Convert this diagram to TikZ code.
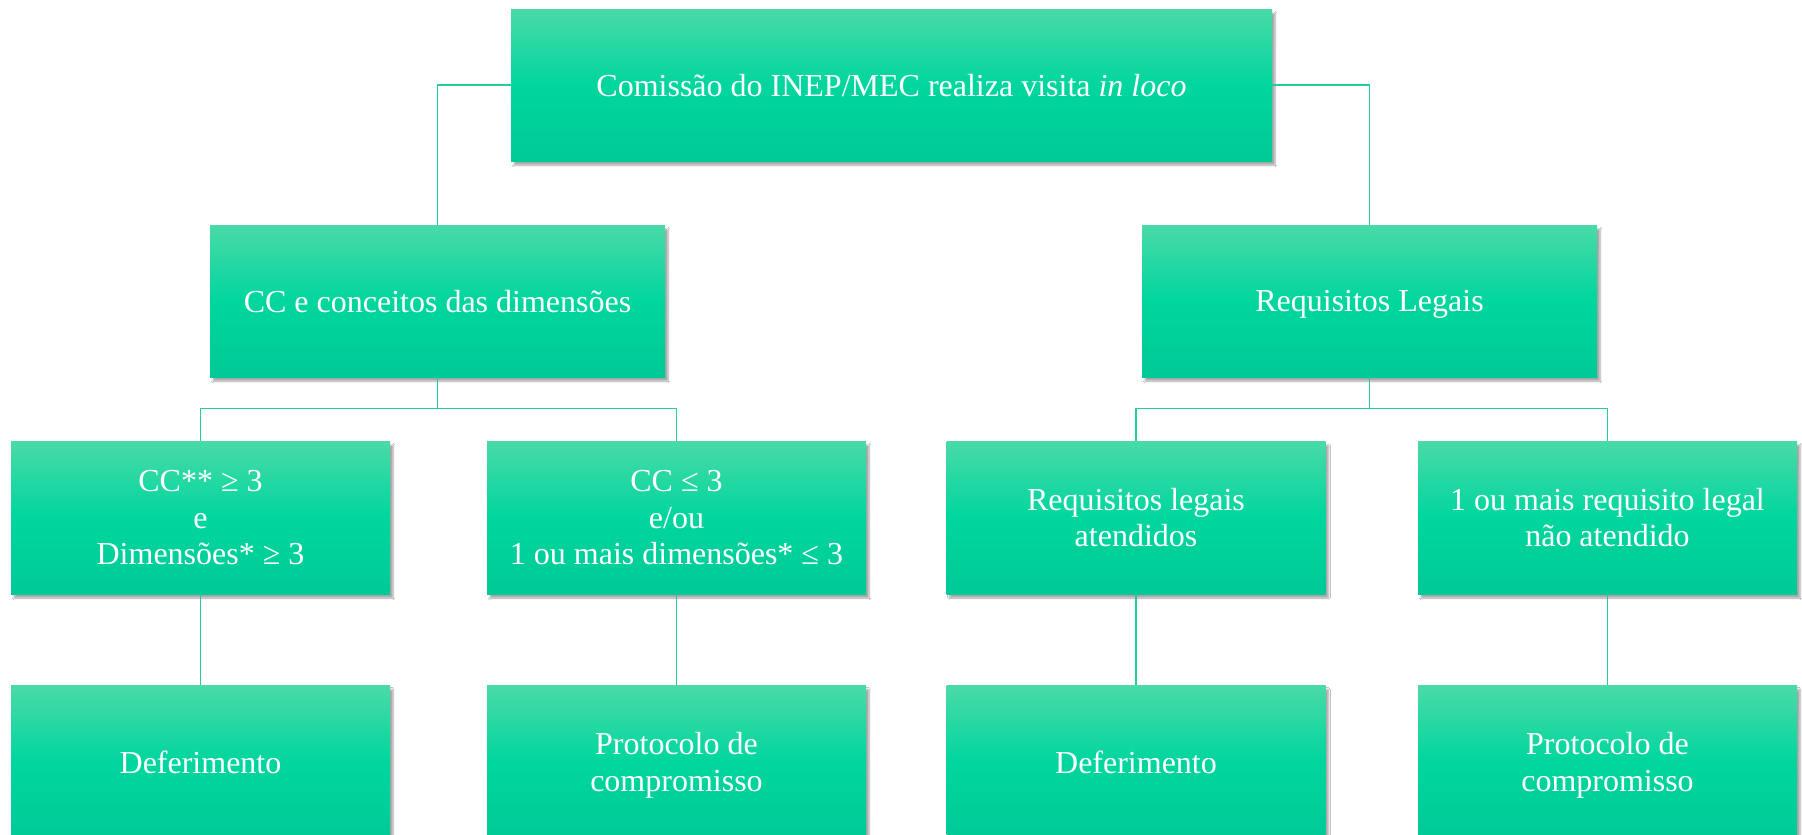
\documentclass[tikz,border=0pt]{standalone}
\usepackage{fontspec}
\setmainfont{Liberation Serif}
\usetikzlibrary{shadows.blur}
\definecolor{gtop}{RGB}{74,218,168}
\definecolor{gmid}{RGB}{0,214,158}
\definecolor{gbot}{RGB}{0,202,151}
\definecolor{conn}{RGB}{30,206,158}
\tikzset{
  box/.style={rectangle, inner sep=0pt, align=center, text=white,
    font=\fontsize{32}{36.5}\selectfont, text depth=0pt,
    top color=gtop, bottom color=gbot, middle color=gmid,
    blur shadow={shadow xshift=3pt, shadow yshift=-4pt, shadow blur steps=6, shadow opacity=35}},
  wbox/.style={box, minimum width=455pt, minimum height=152pt},
  sbox/.style={box, minimum width=379pt, minimum height=153pt},
  link/.style={draw=conn, line width=1.2pt}
}
\begin{document}
\begin{tikzpicture}[x=1pt,y=1pt]
\clip (0,0) rectangle (1802,-835);
\fill[white] (0,0) rectangle (1802,-835);
\node[box, minimum width=761pt, minimum height=152pt] (top) at (891.5,-85) {Comissão do INEP/MEC realiza visita \textit{in loco}};
\node[wbox] (l2a) at (437.5,-301) {CC e conceitos das dimensões};
\node[wbox] (l2b) at (1369.5,-301) {Requisitos Legais};
\node[sbox] (l3a) at (200.5,-517.5) {CC** ≥ 3\\e\\Dimensões* ≥ 3};
\node[sbox] (l3b) at (676.5,-517.5) {CC ≤ 3\\e/ou\\1 ou mais dimensões* ≤ 3};
\node[sbox] (l3c) at (1136,-517.5) {Requisitos legais\\atendidos};
\node[sbox] (l3d) at (1607.5,-517.5) {1 ou mais requisito legal\\não atendido};
\node[sbox] (l4a) at (200.5,-762) {Deferimento};
\node[sbox] (l4b) at (676.5,-762) {Protocolo de\\compromisso};
\node[sbox] (l4c) at (1136,-762) {Deferimento};
\node[sbox] (l4d) at (1607.5,-762) {Protocolo de\\compromisso};
\draw[link] (top.west) -| (l2a.north);
\draw[link] (top.east) -| (l2b.north);
\draw[link] (l2a.south) -- ++(0,-31) coordinate (ja) -| (l3a.north);
\draw[link] (ja) -| (l3b.north);
\draw[link] (l2b.south) -- ++(0,-31) coordinate (jb) -| (l3c.north);
\draw[link] (jb) -| (l3d.north);
\draw[link] (l3a.south) -- (l4a.north);
\draw[link] (l3b.south) -- (l4b.north);
\draw[link] (l3c.south) -- (l4c.north);
\draw[link] (l3d.south) -- (l4d.north);
\end{tikzpicture}
\end{document}
